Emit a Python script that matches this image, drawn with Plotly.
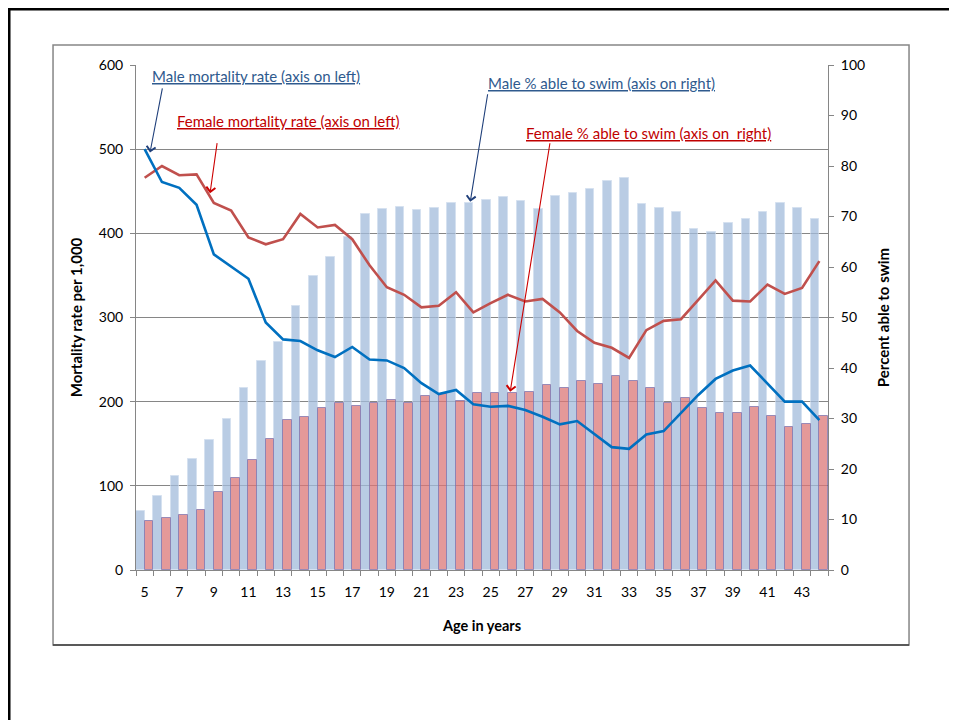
import plotly.graph_objects as go

ages = list(range(5, 45))
tick_ages = list(range(5, 44, 2))

male_mortality = [500, 461, 454, 434, 375, 361, 346, 294, 274, 272,
                  261, 253, 265, 250, 249, 240, 222, 209, 214, 197,
                  194, 195, 190, 182, 173, 177, 161, 146, 144, 161,
                  165, 186, 208, 227, 237, 243, 221, 200, 200, 178]
female_mortality = [466, 480, 469, 470, 436, 427, 395, 387, 393, 423,
                    407, 410, 393, 362, 336, 327, 312, 314, 330, 306,
                    317, 327, 319, 322, 306, 284, 270, 264, 252, 285,
                    296, 298, 321, 344, 320, 319, 339, 328, 335, 367]
male_swim = [11.7, 14.6, 18.6, 22.0, 25.7, 30.0, 36.0, 41.4, 45.1, 52.3,
             58.2, 61.9, 66.0, 70.5, 71.5, 71.9, 71.2, 71.7, 72.6, 72.7,
             73.3, 73.9, 73.0, 71.5, 74.1, 74.6, 75.4, 77.0, 77.6, 72.5,
             71.7, 70.8, 67.5, 66.9, 68.8, 69.6, 70.8, 72.7, 71.7, 69.6]
female_swim = [9.7, 10.3, 10.9, 11.9, 15.4, 18.2, 21.8, 25.9, 29.8, 30.3,
               32.1, 33.0, 32.5, 33.0, 33.6, 33.1, 34.4, 34.9, 33.4, 35.0,
               35.0, 35.0, 35.2, 36.6, 36.0, 37.5, 36.8, 38.5, 37.4, 36.0,
               33.0, 34.0, 32.1, 31.0, 31.0, 32.2, 30.5, 28.3, 29.0, 30.5]

FONT = "Lato"
GRAY = "#868686"
BLUE_TXT = "#2F5A8E"
BLUE_ARW = "#1F3F7A"
RED_TXT = "#C00000"
RED_ARW = "#CC0000"

fig = go.Figure()
fig.add_trace(go.Bar(x=ages, y=male_swim, yaxis="y", name="Male % able to swim",
                     marker=dict(color="rgb(162,188,220)", opacity=0.75,
                                 line=dict(color="rgb(200,215,235)", width=1))))
fig.add_trace(go.Bar(x=ages, y=female_swim, yaxis="y", name="Female % able to swim",
                     marker=dict(color="rgb(220,119,120)", opacity=0.75,
                                 line=dict(color="rgb(120,100,160)", width=1))))
fig.add_trace(go.Scatter(x=ages, y=female_mortality, yaxis="y2", mode="lines",
                         name="Female mortality rate",
                         line=dict(color="#C0504D", width=2.6)))
fig.add_trace(go.Scatter(x=ages, y=male_mortality, yaxis="y2", mode="lines",
                         name="Male mortality rate",
                         line=dict(color="#0070C0", width=2.6)))

tick_font = dict(family=FONT, size=14, color="#000000")
title_font = dict(family=FONT, size=15, color="#000000", weight="bold")

fig.update_layout(
    width=957, height=720,
    margin=dict(l=128, r=137, t=57, b=158, autoexpand=False),
    paper_bgcolor="white", plot_bgcolor="white",
    showlegend=False,
    barmode="group", bargap=0, bargroupgap=0,
    xaxis=dict(range=[4.5, 44.5], tickmode="array", tickvals=tick_ages,
               ticks="", showgrid=False, zeroline=False,
               showline=True, linecolor=GRAY, linewidth=1,
               tickfont=tick_font, ticklabelstandoff=9,
               minor=dict(tickmode="array", tickvals=[a - 0.5 for a in ages] + [ages[-1] + 0.5],
                          ticks="outside", ticklen=5, tickcolor=GRAY, tickwidth=1,
                          showgrid=False),
               title=dict(text="Age in years", font=dict(family=FONT, size=14.5, color="#000000", weight="bold"),
                          standoff=22)),
    yaxis=dict(side="right", range=[0, 100], tickmode="linear", tick0=0, dtick=10,
               ticks="outside", ticklen=5, tickcolor=GRAY, showgrid=False,
               zeroline=False, showline=True, linecolor=GRAY, linewidth=1,
               tickfont=tick_font, ticklabelstandoff=4,
               title=dict(text="Percent able to swim", font=title_font, standoff=14)),
    yaxis2=dict(overlaying="y", side="left", range=[0, 600], tickmode="linear",
                tick0=0, dtick=100, ticks="outside", ticklen=5, tickcolor=GRAY,
                showgrid=True, gridcolor=GRAY, gridwidth=1, zeroline=False,
                showline=True, linecolor=GRAY, linewidth=1,
                tickfont=tick_font, ticklabelstandoff=4,
                title=dict(text="Mortality rate per 1,000", font=title_font, standoff=12)),
)

# frames
fig.add_shape(type="rect", xref="paper", yref="paper",
              x0=-0.1199, x1=1.1171, y0=-0.1485, y1=1.0396,
              line=dict(color=GRAY, width=1.5), layer="below")
fig.add_shape(type="line", xref="paper", yref="paper",
              x0=-0.1199, x1=1.1171, y0=-0.1485, y1=-0.1485,
              line=dict(color="#404040", width=1.5))
fig.add_shape(type="line", xref="paper", yref="paper",
              x0=-0.19, x1=1.2, y0=1.1109, y1=1.1109,
              line=dict(color="black", width=3))
fig.add_shape(type="line", xref="paper", yref="paper",
              x0=-0.1835, x1=-0.1835, y0=-0.4, y1=1.115,
              line=dict(color="black", width=3))

# callout texts
callouts = [
    ("Male mortality rate (axis on left)", 0.0212, 0.978, BLUE_TXT),
    ("Female mortality rate (axis on left)", 0.0578, 0.889, RED_TXT),
    ("Male % able to swim (axis on right)", 0.5068, 0.9638, BLUE_TXT),
    ("Female % able to swim (axis on  right)", 0.5626, 0.8648, RED_TXT),
]
for txt, x, y, c in callouts:
    fig.add_annotation(text="<u>" + txt.replace("  ", "&nbsp; ") + "</u>", xref="paper", yref="paper",
                       x=x, y=y, xanchor="left", yanchor="middle", showarrow=False,
                       borderpad=0, font=dict(family=FONT, size=15, color=c))

# callout arrows (tail -> tip)
arrows = [
    (5.31, 496, 6.04, 574, "y2", BLUE_ARW),
    (8.78, 447.6, 9.2, 508.9, "y2", RED_ARW),
    (23.82, 72.9, 24.84, 94.5, "y", BLUE_ARW),
    (26.13, 35.3, 28.44, 84.8, "y", RED_ARW),
]
for x, y, ax, ay, yr, c in arrows:
    fig.add_annotation(text="", x=x, y=y, xref="x", yref=yr, ax=ax, ay=ay,
                       axref="x", ayref=yr, showarrow=True, arrowhead=4,
                       arrowsize=1.6, arrowwidth=1.1, arrowcolor=c, standoff=0)

fig.write_html("out.html")
